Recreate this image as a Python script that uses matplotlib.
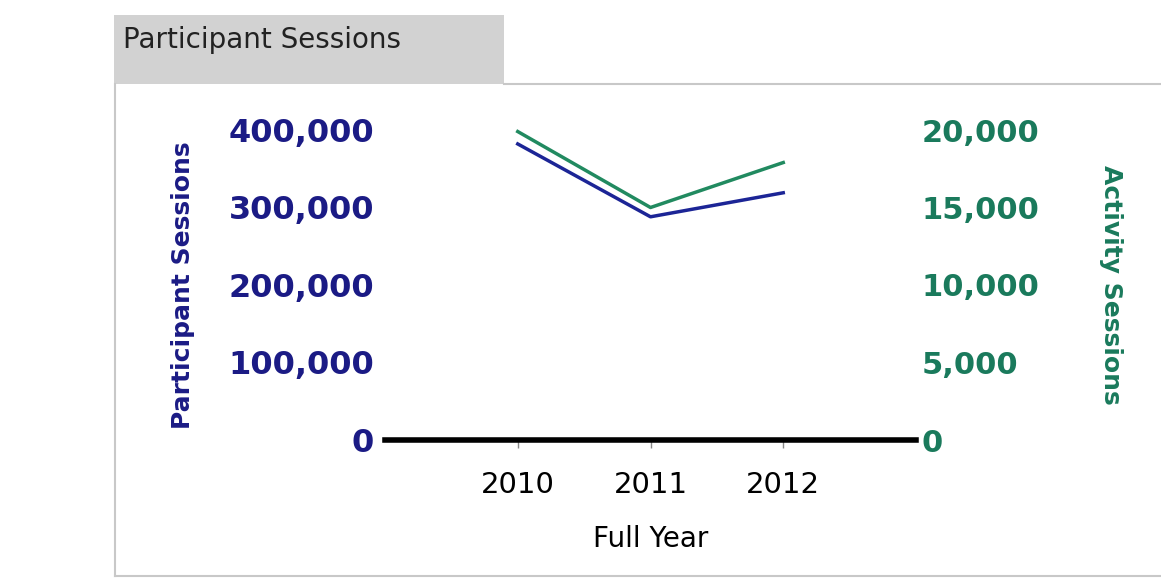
import matplotlib
matplotlib.use("Agg")
import matplotlib.pyplot as plt
from matplotlib.patches import Rectangle
from matplotlib.lines import Line2D
from matplotlib.ticker import FuncFormatter

# data
years = [2010, 2011, 2012]
participant_sessions = [382000, 288000, 319000]
activity_sessions = [19900, 15000, 17900]
left_ticks = [0, 100000, 200000, 300000, 400000]
right_ticks = [0, 5000, 10000, 15000, 20000]

NAVY = "#1b1b85"
BLUE_LINE = "#1c2596"
GREEN = "#1a7a5c"
GREEN_LINE = "#218a60"

plt.rcParams["font.family"] = ["DejaVu Sans"]

fig = plt.figure(figsize=(11.61, 5.86), dpi=100)
fig.patch.set_facecolor("white")

# panel frame + grey header tab (pixel coords of the reference)
W, H = 1161, 586
def fx(px):
    return px / W
def fy(py):
    return 1 - py / H

fig.patches.append(Rectangle((fx(114), fy(84)), fx(504) - fx(114), fy(15) - fy(84),
                             transform=fig.transFigure, facecolor="#d2d2d2",
                             edgecolor="none", zorder=0))
fig.lines.append(Line2D([fx(504), 1.0], [fy(84), fy(84)], transform=fig.transFigure,
                        color="#c8c8c8", lw=1.5))
fig.lines.append(Line2D([fx(115), fx(115)], [fy(84), fy(576)], transform=fig.transFigure,
                        color="#c8c8c8", lw=1.5))
fig.lines.append(Line2D([fx(115), 1.0], [fy(576), fy(576)], transform=fig.transFigure,
                        color="#c8c8c8", lw=1.5))
fig.text(fx(123), fy(40), "Participant Sessions", fontsize=20, color="#222222",
         va="center", ha="left")

ax = fig.add_axes([fx(385), fy(440), fx(916) - fx(385), fy(130) - fy(440)])
ax2 = ax.twinx()

ax.plot(years, participant_sessions, color=BLUE_LINE, lw=2.5, clip_on=False, zorder=3)
ax2.plot(years, activity_sessions, color=GREEN_LINE, lw=2.5, clip_on=False, zorder=3)

ax.set_xlim(2009, 2013)
ax.set_ylim(0, 400000)
ax2.set_ylim(0, 20000)

for a in (ax, ax2):
    a.patch.set_visible(False)
    for s in a.spines.values():
        s.set_visible(False)
ax.spines["bottom"].set_visible(True)
ax.spines["bottom"].set_linewidth(4)
ax.spines["bottom"].set_color("black")

fmt = FuncFormatter(lambda v, p: f"{int(v):,}")
ax.set_yticks(left_ticks)
ax.yaxis.set_major_formatter(fmt)
ax2.set_yticks(right_ticks)
ax2.yaxis.set_major_formatter(fmt)

ax.tick_params(axis="y", length=0, pad=8, labelsize=23, labelcolor=NAVY)
for t in ax.get_yticklabels():
    t.set_fontweight("bold")
ax2.tick_params(axis="y", length=0, pad=4, labelsize=22, labelcolor=GREEN)
for t in ax2.get_yticklabels():
    t.set_fontweight("bold")

ax.set_xticks(years)
ax.set_xticklabels([str(y) for y in years])
ax.tick_params(axis="x", length=6, width=1, color="#888888", pad=16, labelsize=21,
               labelcolor="black")

ax.set_xlabel("Full Year", fontsize=20, color="black", labelpad=19)
ax.set_ylabel("Participant Sessions", fontsize=18, color=NAVY, fontweight="bold",
              labelpad=24)
ax2.set_ylabel("Activity Sessions", fontsize=18, color=GREEN, fontweight="bold",
               rotation=270, labelpad=60)

fig.savefig("out.png", dpi=100)
